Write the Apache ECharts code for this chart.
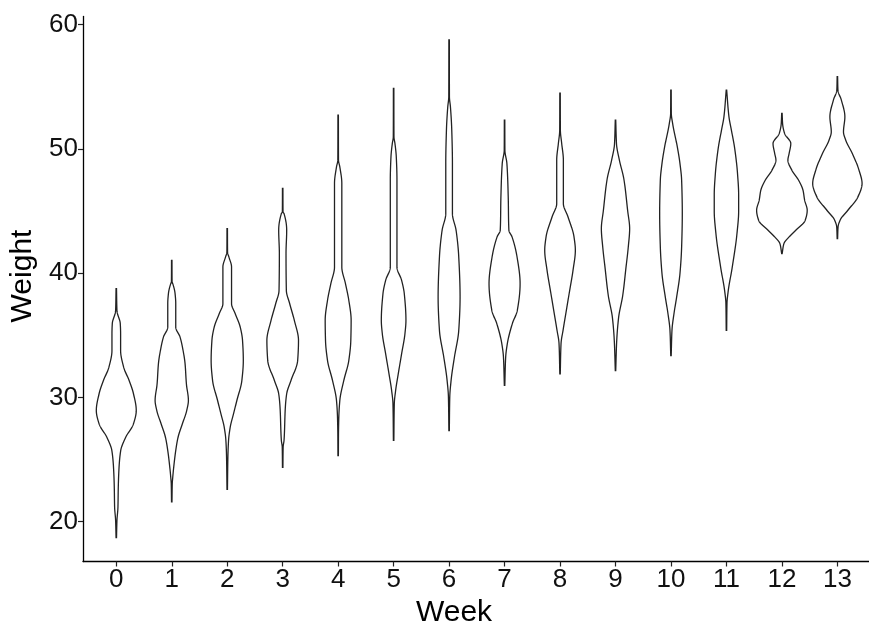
<!DOCTYPE html>
<html><head><meta charset="utf-8">
<script src="https://cdn.jsdelivr.net/npm/echarts@6/dist/echarts.min.js"></script>
<style>html,body{margin:0;padding:0;background:#fff}#c{width:869px;height:629px}</style>
</head><body><div id="c"></div>
<script>
const weeks = ['0','1','2','3','4','5','6','7','8','9','10','11','12','13'];
const weekTicks = [0,1,2,3,4,5,6,7,8,9,10,11,12,13];
const yTicks = [20,30,40,50,60];

// Violin outlines: [Weight, half-width in week units]
const violin0 = [[38.76,0.004],[37.0,0.012],[35.94,0.072],[35.13,0.078],[33.79,0.078],[32.45,0.132],[31.38,0.23],[30.3,0.31],[28.95,0.36],[27.88,0.31],[26.8,0.17],[25.73,0.08],[24.38,0.05],[22.77,0.036],[21.16,0.03],[20.1,0.012],[18.72,0.004]];
const violin1 = [[41.04,0.004],[39.29,0.006],[39.16,0.018],[38.36,0.06],[37.55,0.072],[35.67,0.072],[34.86,0.15],[33.79,0.204],[32.72,0.24],[31.1,0.264],[29.76,0.30],[28.95,0.27],[27.88,0.192],[26.8,0.114],[25.73,0.072],[24.66,0.042],[23.58,0.018],[23.05,0.009],[21.6,0.004]];
const violin2 = [[43.59,0.004],[41.71,0.006],[41.31,0.03],[40.5,0.078],[37.55,0.078],[36.74,0.144],[35.67,0.234],[34.59,0.276],[32.98,0.29],[31.37,0.264],[29.76,0.174],[28.69,0.114],[27.61,0.054],[26.54,0.024],[25.19,0.012],[22.6,0.004]];
const violin3 = [[46.82,0.004],[44.93,0.006],[44.8,0.024],[43.46,0.072],[41.58,0.06],[38.62,0.066],[37.55,0.126],[36.2,0.21],[34.59,0.285],[32.98,0.27],[31.37,0.15],[30.3,0.072],[29.22,0.048],[26.54,0.024],[26.0,0.008],[24.38,0.004]];
const violin4 = [[52.72,0.004],[49.1,0.006],[48.56,0.03],[47.22,0.066],[40.5,0.066],[39.16,0.132],[37.82,0.192],[36.2,0.234],[34.59,0.228],[32.98,0.192],[31.37,0.102],[29.76,0.03],[28.41,0.012],[27.08,0.006],[25.33,0.004]];
const violin5 = [[54.87,0.004],[50.98,0.006],[50.44,0.024],[49.36,0.048],[47.49,0.06],[40.5,0.06],[39.43,0.144],[38.36,0.192],[36.2,0.222],[35.13,0.204],[33.52,0.144],[31.91,0.084],[30.56,0.036],[29.49,0.012],[26.54,0.004]];
const violin6 = [[58.77,0.004],[54.2,0.006],[53.39,0.024],[51.52,0.048],[48.83,0.06],[44.8,0.06],[43.46,0.126],[41.31,0.174],[38.08,0.198],[35.4,0.174],[33.25,0.096],[31.37,0.036],[30.02,0.012],[27.34,0.004]];
const violin7 = [[52.32,0.004],[49.9,0.006],[48.83,0.042],[46.14,0.066],[43.46,0.078],[42.92,0.135],[41.31,0.225],[39.16,0.28],[37.01,0.23],[35.94,0.14],[34.33,0.05],[33.25,0.02],[30.97,0.004]];
const violin8 = [[54.5,0.004],[51.52,0.006],[50.44,0.03],[49.1,0.06],[45.61,0.06],[44.53,0.144],[42.92,0.252],[41.85,0.276],[40.23,0.234],[38.62,0.174],[37.01,0.114],[35.4,0.054],[34.33,0.018],[31.91,0.004]];
const violin9 = [[52.32,0.004],[50.4,0.018],[49.1,0.07],[47.6,0.15],[45.0,0.22],[43.6,0.255],[42.1,0.23],[40.5,0.19],[38.2,0.13],[36.4,0.055],[34.4,0.02],[32.17,0.004]];
const violin10 = [[54.74,0.004],[52.86,0.006],[52.05,0.03],[50.17,0.114],[48.83,0.162],[47.49,0.192],[44.8,0.204],[42.11,0.192],[39.97,0.162],[38.08,0.102],[36.74,0.054],[35.4,0.018],[33.38,0.004]];
const violin11 = [[54.74,0.004],[52.6,0.045],[51.5,0.09],[50.0,0.15],[48.0,0.2],[46.3,0.22],[45.0,0.22],[43.2,0.19],[40.5,0.105],[38.5,0.03],[37.6,0.01],[35.4,0.004]];
const violin12 = [[52.86,0.004],[52.05,0.012],[51.25,0.048],[50.44,0.16],[49.63,0.13],[49.1,0.108],[48.29,0.18],[47.49,0.30],[46.68,0.38],[45.87,0.41],[45.07,0.456],[44.26,0.42],[43.46,0.25],[42.92,0.13],[42.38,0.036],[41.58,0.004]];
const violin13 = [[55.81,0.004],[54.74,0.01],[53.93,0.072],[52.59,0.135],[51.38,0.11],[50.71,0.15],[49.63,0.27],[48.29,0.39],[47.22,0.445],[46.14,0.37],[45.07,0.19],[44.26,0.048],[43.72,0.012],[42.79,0.004]];

const violins = [violin0,violin1,violin2,violin3,violin4,violin5,violin6,violin7,violin8,violin9,violin10,violin11,violin12,violin13];

function monotone(xs, ys) {
  const n = xs.length, d = [], m = new Array(n);
  for (let i = 0; i < n - 1; i++) d.push((ys[i+1]-ys[i])/(xs[i+1]-xs[i]));
  m[0] = d[0]; m[n-1] = d[n-2];
  for (let i = 1; i < n - 1; i++) {
    if (d[i-1]*d[i] <= 0) m[i] = 0;
    else {
      const h0 = xs[i]-xs[i-1], h1 = xs[i+1]-xs[i];
      const w1 = 2*h1+h0, w2 = h1+2*h0;
      m[i] = (w1+w2)/(w1/d[i-1]+w2/d[i]);
    }
  }
  return function(x) {
    let i = 0;
    while (i < n - 2 && x > xs[i+1]) i++;
    const h = xs[i+1]-xs[i], t = (x - xs[i])/h;
    const t2 = t*t, t3 = t2*t;
    const v = (2*t3-3*t2+1)*ys[i] + (t3-2*t2+t)*h*m[i] + (-2*t3+3*t2)*ys[i+1] + (t3-t2)*h*m[i+1];
    return Math.max(v, 0.002);
  };
}

function renderItem(params, api) {
  const k = api.value(0);
  const prof = violins[k].slice().sort((a,b) => a[0]-b[0]);
  const xs = prof.map(p => p[0]), ys = prof.map(p => p[1]);
  const f = monotone(xs, ys);
  const lo = xs[0], hi = xs[xs.length-1];
  const steps = Math.ceil((hi - lo)/0.04);
  const samples = [];
  for (let s = 0; s <= steps; s++) {
    const w = lo + (hi - lo)*s/steps;
    samples.push([w, f(w)]);
  }
  const right = samples.map(([w,h]) => api.coord([k + h, w]));
  const left = samples.slice().reverse().map(([w,h]) => api.coord([k - h, w]));
  return {
    type: 'polygon',
    shape: { points: right.concat(left) },
    style: { fill: 'none', stroke: '#222222', lineWidth: 1.3 }
  };
}

const chart = echarts.init(document.getElementById('c'), null, {renderer: 'canvas'});
const font = 'Liberation Sans, Arial, sans-serif';
chart.setOption({
  animation: false,
  grid: { left: 83, right: 0, top: 16.5, bottom: 67.5, outerBoundsMode: 'none', containLabel: false },
  xAxis: {
    type: 'value', min: -0.6, max: 13.57,
    name: 'Week', nameLocation: 'middle', nameGap: 29,
    nameTextStyle: { fontSize: 30, color: '#000', fontFamily: font, padding: [0, 44, 0, 0] },
    axisLine: { show: true, onZero: false, lineStyle: { color: '#000', width: 1.3 } },
    axisTick: { show: true, length: 5, lineStyle: { color: '#222', width: 1.2 }, customValues: weekTicks },
    axisLabel: { customValues: weekTicks, formatter: v => weeks[Math.round(v)], fontSize: 26, color: '#111', margin: 5, fontFamily: font },
    splitLine: { show: false }
  },
  yAxis: {
    type: 'value', min: 16.8, max: 60.66,
    name: 'Weight', nameLocation: 'middle', nameGap: 45,
    nameTextStyle: { fontSize: 30, color: '#000', fontFamily: font, padding: [0, 0, 0, 26] },
    axisLine: { show: true, onZero: false, lineStyle: { color: '#000', width: 1.3 } },
    axisTick: { show: true, length: 5, lineStyle: { color: '#222', width: 1.2 }, customValues: yTicks },
    axisLabel: { customValues: yTicks, fontSize: 26, color: '#111', margin: 5, fontFamily: font },
    splitLine: { show: false }
  },
  series: [{
    type: 'custom', renderItem: renderItem, clip: false, silent: true,
    encode: { x: 0 },
    data: weekTicks.map(i => [i])
  }]
});
</script></body></html>
